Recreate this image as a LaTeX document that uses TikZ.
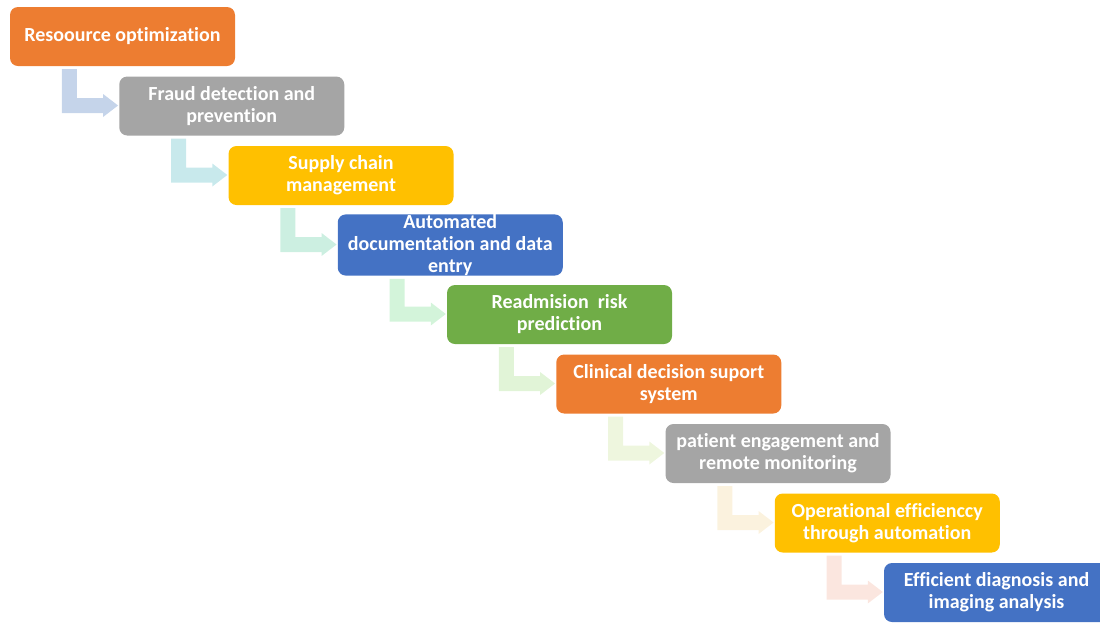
\documentclass[tikz,border=0pt]{standalone}
\usepackage{fontspec}
\setmainfont{Carlito}[Ligatures={NoCommon}]
\usetikzlibrary{calc}
\definecolor{corange}{HTML}{ED7D31}
\definecolor{cgray}{HTML}{A5A5A5}
\definecolor{cyellow}{HTML}{FFC000}
\definecolor{cblue}{HTML}{4472C4}
\definecolor{cgreen}{HTML}{70AD47}
\definecolor{aone}{HTML}{C5D4EA}
\definecolor{atwo}{HTML}{C8E9EC}
\definecolor{athree}{HTML}{CCEFE1}
\definecolor{afour}{HTML}{D3F4DA}
\definecolor{afive}{HTML}{E1F4D7}
\definecolor{asix}{HTML}{EEF6DE}
\definecolor{aseven}{HTML}{FBF2DE}
\definecolor{aeight}{HTML}{FBE6DF}
\tikzset{
  stepbox/.style={rounded corners=8pt, minimum width=225pt, minimum height=59pt,
    inner sep=0pt, text=white, align=center,
    font=\fontsize{20}{22}\selectfont\bfseries},
}
% bent arrow from the bottom of one box to the left side of the next
\newcommand{\bentarrow}[3]{%
  \coordinate (s) at ($(#1.south west)+(52,3)$);
  \coordinate (t) at ($(#2.west)+(-1,-0.5)$);
  \fill[#3] (s) -- ++(15,0) |- ($(t)+(-15,-7.5)$) -- ++(0,-4) -- (t)
    -- ($(t)+(-15,11.5)$) -- ++(0,-4) -| (s) -- cycle;
}
\begin{document}
\begin{tikzpicture}[x=1pt,y=-1pt]
\useasboundingbox (0,0) rectangle (1100,622);
\clip (0,0) rectangle (1100,622);
\node[stepbox, fill=corange] (b1) at (122.5,36.5)  {Resoource optimization};
\node[stepbox, fill=cgray]   (b2) at (231.75,106) {Fraud detection and\\prevention};
\node[stepbox, fill=cyellow] (b3) at (341,175.5)  {Supply chain\\management};
\node[stepbox, fill=cblue]   (b4) at (450.25,245) {Automated\\documentation and data\\entry};
\node[stepbox, fill=cgreen]  (b5) at (559.5,314.5) {Readmision\ \ risk\\prediction};
\node[stepbox, fill=corange] (b6) at (668.75,384) {Clinical decision suport\\system};
\node[stepbox, fill=cgray]   (b7) at (778,453.5)  {patient engagement and\\remote monitoring};
\node[stepbox, fill=cyellow] (b8) at (887.25,523) {Operational efficienccy\\through automation};
\node[stepbox, fill=cblue]   (b9) at (996.5,592.5) {Efficient diagnosis and\\imaging analysis};
\bentarrow{b1}{b2}{aone}
\bentarrow{b2}{b3}{atwo}
\bentarrow{b3}{b4}{athree}
\bentarrow{b4}{b5}{afour}
\bentarrow{b5}{b6}{afive}
\bentarrow{b6}{b7}{asix}
\bentarrow{b7}{b8}{aseven}
\bentarrow{b8}{b9}{aeight}
\end{tikzpicture}
\end{document}
